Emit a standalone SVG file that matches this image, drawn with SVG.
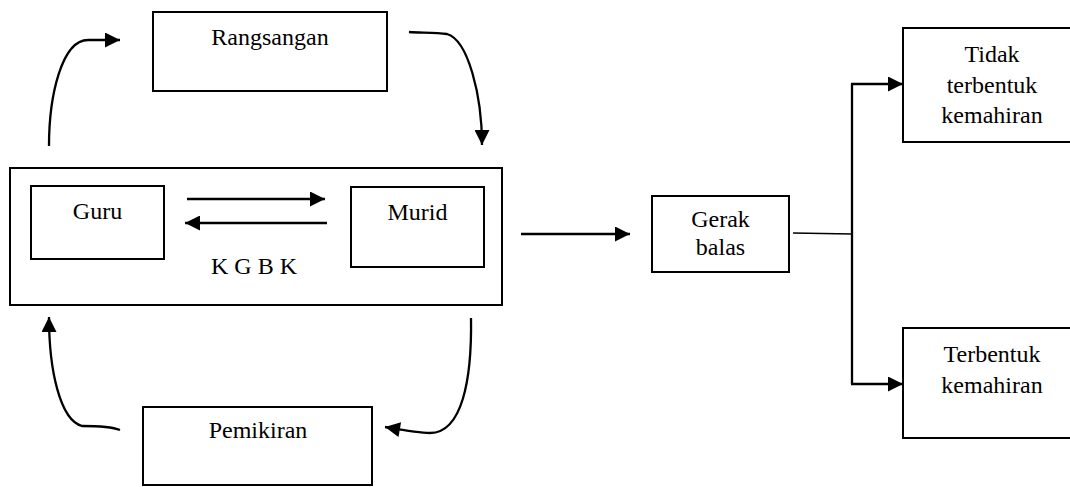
<svg xmlns="http://www.w3.org/2000/svg" width="1070" height="487" viewBox="0 0 1070 487">
<style>
.box{fill:#fff;stroke:#000;stroke-width:2}
.t{font-family:'Liberation Serif','Times New Roman','DejaVu Serif',serif;font-size:24px;fill:#000;text-anchor:middle}
.c{fill:none;stroke:#000;stroke-width:2.3}
.thin{fill:none;stroke:#000;stroke-width:1.3}
</style>
<defs>
<marker id="ah" viewBox="0 0 10 10" refX="10" refY="5" markerWidth="17" markerHeight="15" markerUnits="userSpaceOnUse" orient="auto">
<path d="M0,0 L10,5 L0,10 z" fill="#000"/>
</marker>
</defs>
<rect width="1070" height="487" fill="#fff"/>
<g id="kgbk-frame">
<rect class="box" x="10" y="168" width="492" height="137"/>
<text class="t" x="254" y="274">K G B K</text>
</g>
<g id="rangsangan">
<rect class="box" x="153" y="12" width="234" height="79"/>
<text class="t" x="270" y="45">Rangsangan</text>
</g>
<g id="guru">
<rect class="box" x="31" y="186" width="133" height="73"/>
<text class="t" x="97.5" y="219">Guru</text>
</g>
<g id="murid">
<rect class="box" x="351" y="187" width="133" height="80"/>
<text class="t" x="417.5" y="220">Murid</text>
</g>
<g id="pemikiran">
<rect class="box" x="143" y="407" width="229" height="78"/>
<text class="t" x="258" y="438">Pemikiran</text>
</g>
<g id="gerak-balas">
<rect class="box" x="652" y="196" width="137" height="76"/>
<text class="t" x="720.5" y="227">Gerak</text>
<text class="t" x="720.5" y="255">balas</text>
</g>
<g id="tidak-terbentuk">
<rect class="box" x="903" y="28" width="180" height="114"/>
<text class="t" x="992" y="62">Tidak</text>
<text class="t" x="992" y="93">terbentuk</text>
<text class="t" x="992" y="123">kemahiran</text>
</g>
<g id="terbentuk">
<rect class="box" x="903" y="328" width="180" height="110"/>
<text class="t" x="992" y="362">Terbentuk</text>
<text class="t" x="992" y="393">kemahiran</text>
</g>
<g id="connectors">
<path class="c" d="M49,146 C49,95 62,40 88,40 L120,40" marker-end="url(#ah)"/>
<path class="c" d="M409,32 C420,33 435,32 447,34 C468,40 482,95 482,145" marker-end="url(#ah)"/>
<path class="c" d="M120,430 C110,426 95,426 82,426 C60,420 49,370 49,317" marker-end="url(#ah)"/>
<path class="c" d="M471,318 C472,380 462,433 430,433 C418,433 402,430 385,427" marker-end="url(#ah)"/>
<path class="c" d="M187,199 L325,199" marker-end="url(#ah)"/>
<path class="c" d="M327,223 L185,223" marker-end="url(#ah)"/>
<path class="c" d="M521,234 L630,234" marker-end="url(#ah)"/>
<path class="thin" d="M793,233 L852,234"/>
<path class="c" d="M852,84 L852,384"/>
<path class="c" d="M851,84 L903,84" marker-end="url(#ah)"/>
<path class="c" d="M851,384 L903,384" marker-end="url(#ah)"/>
</g>
</svg>
